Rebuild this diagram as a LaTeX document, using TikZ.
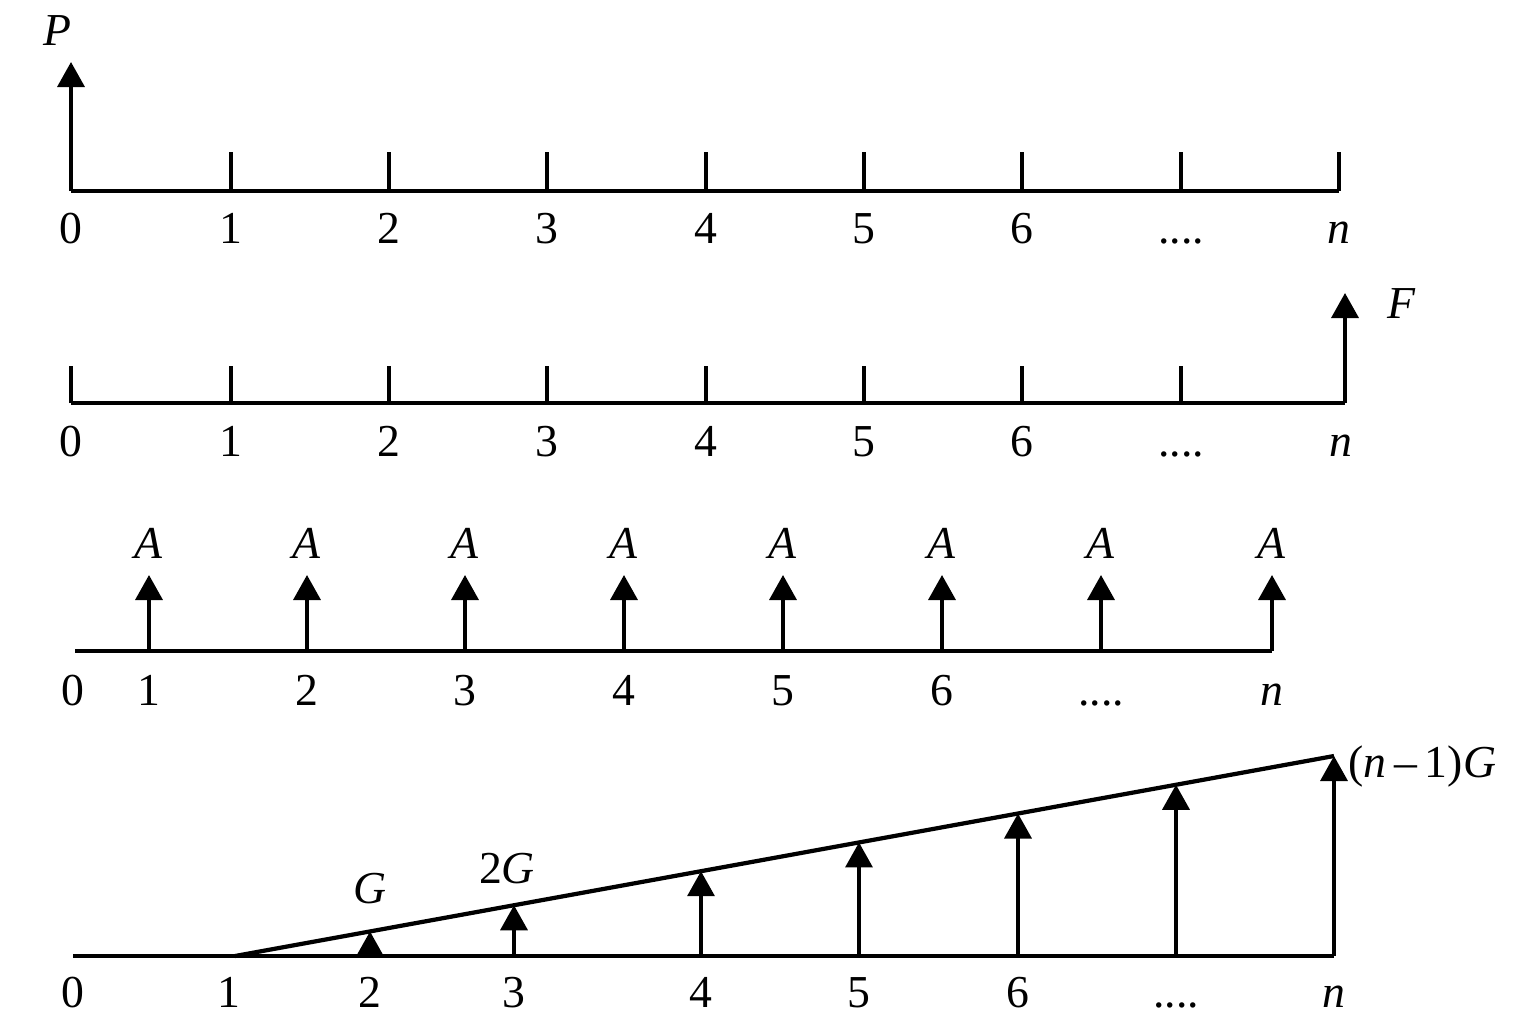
\documentclass[tikz,border=0pt]{standalone}
\usepackage{fontspec}
\setmainfont{Liberation Serif}
\usetikzlibrary{arrows.meta}
\newcommand{\fourdots}{....}
\begin{document}
\begin{tikzpicture}[x=0.01cm, y=-0.01cm, line width=1pt,
  up/.style={-{Triangle[width=0.27cm,length=0.25cm]}},
  lbl/.style={anchor=base, inner sep=0pt, font=\fontsize{13}{15}\selectfont}]
\useasboundingbox (0,0) rectangle (1536,1024);
% present value
\draw (71,191) -- (1339,191);
\draw[up] (71,191) -- (71,62);
\node[lbl] (p) at (57,45) {\textit{P}};
\foreach \x in {231,389,547,706,864,1022,1181,1339}
  \draw (\x,191) -- (\x,152);
\foreach \x/\t [count=\i] in {71/0,231/1,389/2,547/3,706/4,864/5,1022/6,1181/\fourdots,1339/\textit{n}}
  \node[lbl] (pa\i) at (\x,243) {\t};
% future value
\draw (71,403) -- (1345,403);
\draw[up] (1345,403) -- (1345,293);
\node[lbl] (f) at (1402,318) {\textit{F}};
\foreach \x in {71,231,389,547,706,864,1022,1181}
  \draw (\x,403) -- (\x,366);
\foreach \x/\t [count=\i] in {71/0,231/1,389/2,547/3,706/4,864/5,1022/6,1181/\fourdots,1341/\textit{n}}
  \node[lbl] (fa\i) at (\x,456) {\t};
% annuity
\draw (75,651) -- (1272,651);
\foreach \x [count=\i] in {149,307,465,624,783,942,1101,1272}{
  \draw[up] (\x,651) -- (\x,575);
  \node[lbl] (a\i) at (\x,558) {\textit{A}};
}
\foreach \x/\t [count=\i] in {73/0,149/1,307/2,465/3,624/4,783/5,942/6,1101/\fourdots,1272/\textit{n}}
  \node[lbl] (aa\i) at (\x,705) {\t};
% gradient
\draw (73,956) -- (1334,956);
\draw[line width=1.2pt] (235,956) -- (1334,756);
\foreach \x in {370,514,701,859,1018,1176,1334}
  \draw[up] (\x,956) -- (\x,{956-(\x-235)/1099*200});
\node[lbl] (g1) at (370,903) {\textit{G}};
\node[lbl] (g2) at (507,883) {2\textit{G}};
\node[lbl, anchor=base west] (gn) at (1347,777) {(\textit{n}\,–\,1)\textit{G}};
\foreach \x/\t [count=\i] in {73/0,229/1,370/2,514/3,701/4,859/5,1018/6,1176/\fourdots,1334/\textit{n}}
  \node[lbl] (ga\i) at (\x,1007) {\t};
\end{tikzpicture}
\end{document}
